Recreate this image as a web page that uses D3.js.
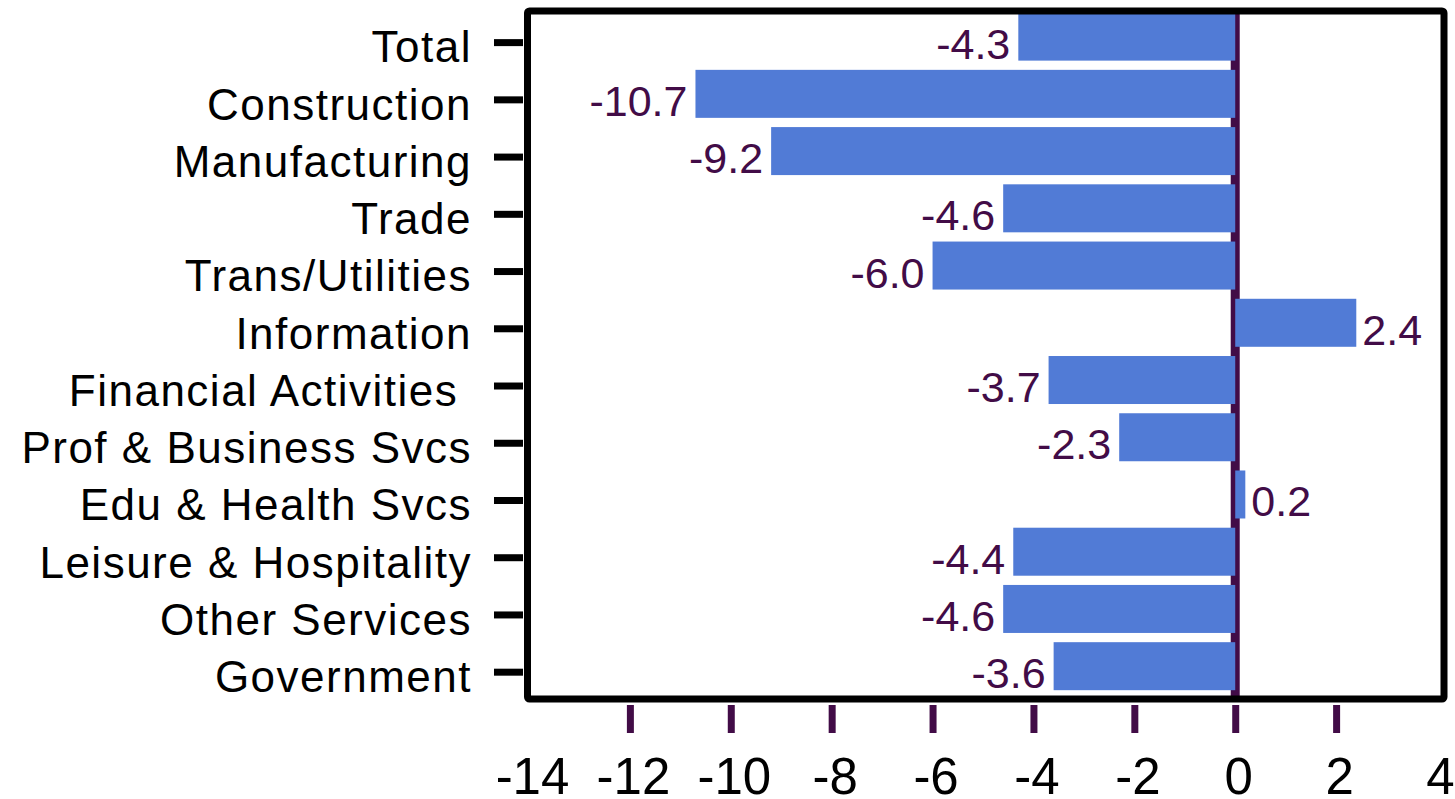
<!DOCTYPE html>
<html>
<head>
<meta charset="utf-8">
<script src="https://cdn.jsdelivr.net/npm/d3@7"></script>
<style>
  html, body { margin: 0; padding: 0; background: #fff; }
  text { font-family: "Liberation Sans", Arial, sans-serif; }
</style>
</head>
<body>
<div id="chart"></div>
<script>
// employment change by sector, percent
var categories = ["Total", "Construction", "Manufacturing", "Trade", "Trans/Utilities",
    "Information", "Financial Activities ", "Prof & Business Svcs", "Edu & Health Svcs",
    "Leisure & Hospitality", "Other Services", "Government"];
var values = [-4.3, -10.7, -9.2, -4.6, -6.0, 2.4, -3.7, -2.3, 0.2, -4.4, -4.6, -3.6];
var xTickLabels = [-14, -12, -10, -8, -6, -4, -2, 0, 2, 4];
var xTickMarks = [-12, -10, -8, -6, -4, -2, 0, 2];

var w = 1455, h = 799;
var purple = "#420c47";
var barColor = "#517bd6";

// plain hyphen for negatives, like the original
var loc = d3.formatLocale({decimal: ".", thousands: ",", grouping: [3], currency: ["", ""], minus: "-"});
var fmtVal = loc.format(".1f");
var fmtTick = loc.format("d");

var svg = d3.select("#chart").append("svg")
    .attr("width", w)
    .attr("height", h);
svg.append("rect")
    .attr("width", w)
    .attr("height", h)
    .attr("fill", "white");

// scales
var x = d3.scaleLinear().domain([-14, 4]).range([529, 1437]);
var y = d3.scaleBand().domain(categories).range([14, 700.8]);
var barH = 48;
var barShift = -6; // bars sit a little above the category ticks

function barTop(c) {
    return y(c) + (y.bandwidth() - barH) / 2 + barShift;
}

// zero line (wide, bars paint over half of it)
svg.append("line")
    .attr("x1", x(0)).attr("x2", x(0))
    .attr("y1", 11).attr("y2", 699)
    .style("stroke", purple)
    .style("stroke-width", 9);

// bars
svg.append("g").selectAll("rect")
    .data(values)
    .join("rect")
    .attr("x", function(d) { return x(Math.min(0, d)); })
    .attr("width", function(d) { return Math.abs(x(d) - x(0)); })
    .attr("y", function(d, i) { return barTop(categories[i]); })
    .attr("height", barH)
    .attr("fill", barColor);

// value labels, baseline near the bar bottom
svg.append("g").selectAll("text")
    .data(values)
    .join("text")
    .attr("x", function(d) { return d < 0 ? x(d) - 8 : x(d) + 6; })
    .attr("y", function(d, i) { return barTop(categories[i]) + barH - 2; })
    .attr("text-anchor", function(d) { return d < 0 ? "end" : "start"; })
    .style("font-size", "43px")
    .style("fill", purple)
    .text(function(d) { return fmtVal(d); });

// plot frame
svg.append("rect")
    .attr("x", 527.5)
    .attr("y", 11)
    .attr("width", 1444 - 527.5)
    .attr("height", 688)
    .attr("rx", 2)
    .style("fill", "none")
    .style("stroke", "black")
    .style("stroke-width", 7)
    .style("stroke-linejoin", "round");

// category axis
var yAxis = svg.append("g")
    .attr("transform", "translate(523,0)")
    .call(d3.axisLeft(y).tickSize(29).tickPadding(22));
yAxis.select(".domain").remove();
yAxis.selectAll(".tick line")
    .style("stroke", "black")
    .style("stroke-width", 7);
yAxis.selectAll(".tick text")
    .attr("dy", "0.45em")
    .style("font-size", "44px")
    .style("letter-spacing", "1.5px")
    .style("white-space", "pre")
    .style("fill", "black");

// x tick marks below the frame
var xMarks = svg.append("g")
    .attr("transform", "translate(0,705)")
    .call(d3.axisBottom(x).tickValues(xTickMarks).tickSize(28).tickFormat(""));
xMarks.select(".domain").remove();
xMarks.selectAll(".tick line")
    .style("stroke", purple)
    .style("stroke-width", 7);

// x tick labels
var xLabels = svg.append("g")
    .attr("transform", "translate(0,794)")
    .call(d3.axisBottom(x).tickValues(xTickLabels).tickSize(0).tickFormat(fmtTick));
xLabels.select(".domain").remove();
xLabels.selectAll(".tick text")
    .attr("y", 0)
    .attr("dy", 0)
    .attr("dx", 3)
    .style("font-size", "51px")
    .style("fill", "black");
</script>
</body>
</html>
